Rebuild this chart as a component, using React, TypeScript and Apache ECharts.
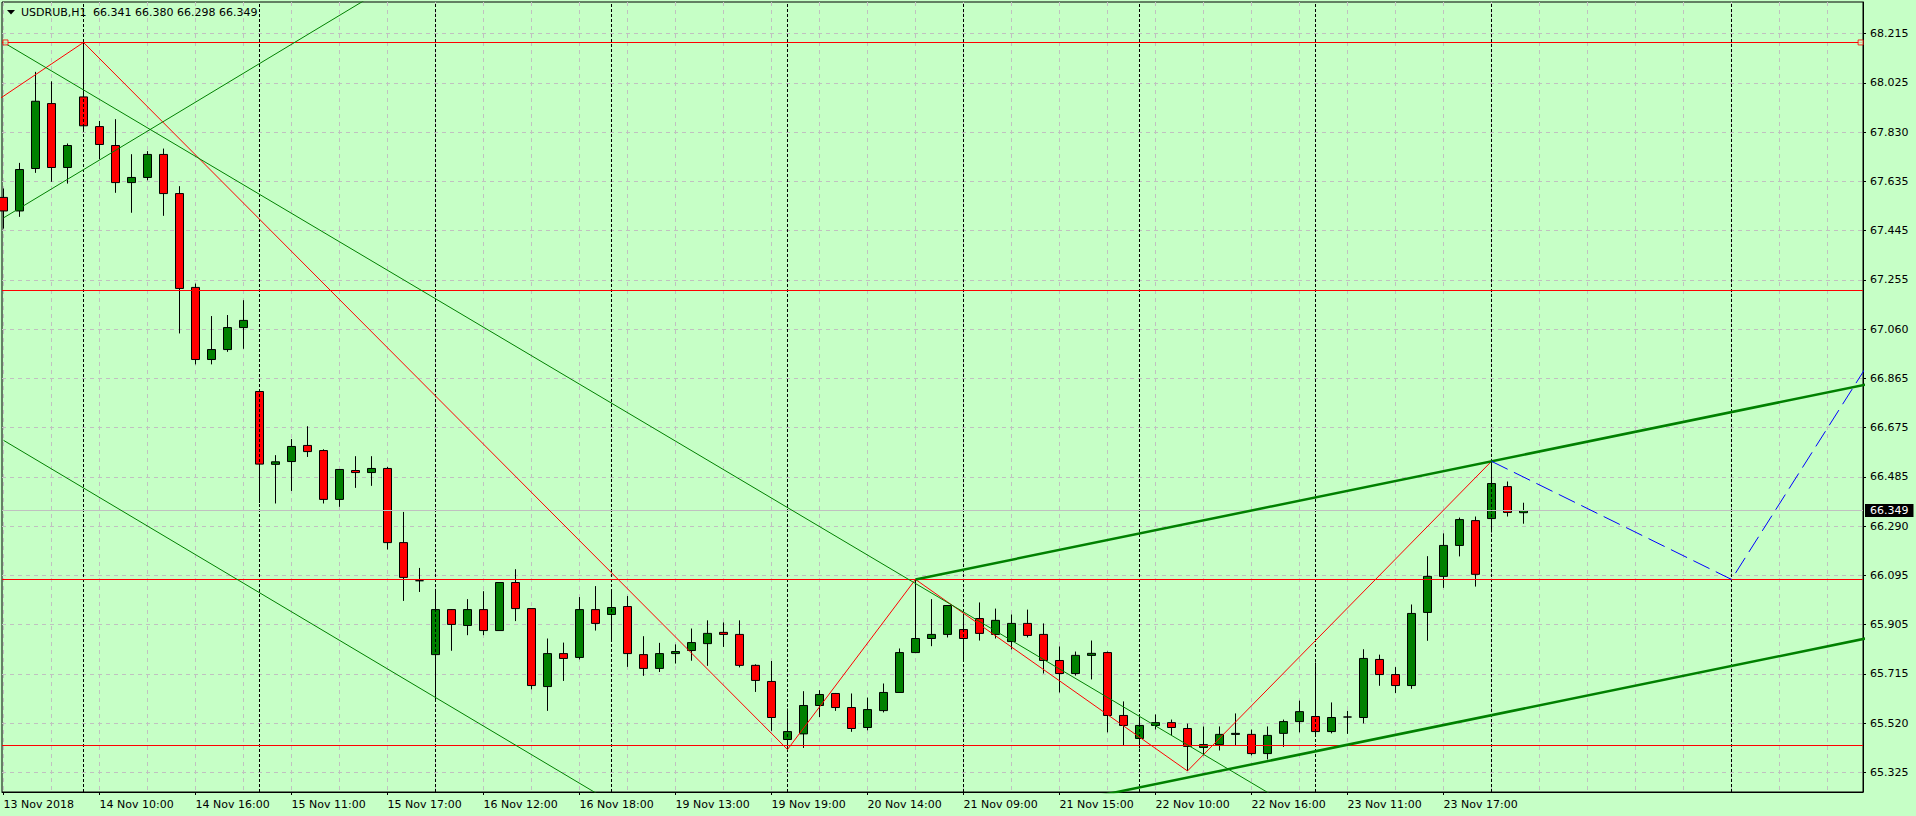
import React, { useEffect, useRef } from 'react';
import * as echarts from 'echarts';

// ---- header ----
const SYMBOL_TF = 'USDRUB,H1';
const LAST_QUOTE = ['66.341', '66.380', '66.298', '66.349'];
const BID = 66.349;

// ---- H1 bars (bar index 0..95) ----
const opens = [
  67.574, 67.521, 67.687, 67.941, 67.691, 67.967, 67.851, 67.777, 67.632, 67.652,
  67.742, 67.589, 67.222, 66.940, 66.979, 67.065, 66.815, 66.530, 66.541, 66.604,
  66.584, 66.393, 66.506, 66.498, 66.514, 66.224, 66.075, 65.786, 65.962, 65.900,
  65.962, 65.880, 66.068, 65.966, 65.661, 65.790, 65.775, 65.962, 65.943, 65.974,
  65.786, 65.732, 65.790, 65.802, 65.829, 65.873, 65.865, 65.744, 65.681, 65.454,
  65.476, 65.587, 65.634, 65.579, 65.501, 65.567, 65.638, 65.794, 65.849, 65.865,
  65.884, 65.927, 65.865, 65.837, 65.908, 65.865, 65.763, 65.712, 65.783, 65.794,
  65.548, 65.458, 65.509, 65.520, 65.497, 65.423, 65.434, 65.474, 65.474, 65.399,
  65.478, 65.524, 65.544, 65.485, 65.542, 65.540, 65.767, 65.708, 65.665, 65.951,
  66.092, 66.213, 66.310, 66.318, 66.443, 66.341,
];
const highs = [
  67.609, 67.709, 68.065, 68.028, 67.785, 68.180, 67.873, 67.880, 67.743, 67.755,
  67.765, 67.618, 67.237, 67.110, 67.114, 67.172, 66.815, 66.566, 66.629, 66.679,
  66.589, 66.512, 66.562, 66.562, 66.520, 66.344, 66.125, 66.038, 65.964, 66.003,
  66.034, 66.068, 66.120, 65.966, 65.849, 65.833, 66.011, 66.054, 66.038, 66.015,
  65.858, 65.832, 65.826, 65.888, 65.920, 65.912, 65.920, 65.748, 65.761, 65.575,
  65.643, 65.647, 65.636, 65.634, 65.618, 65.673, 65.810, 66.080, 66.003, 65.978,
  65.947, 65.990, 65.966, 65.943, 65.962, 65.908, 65.818, 65.798, 65.841, 65.798,
  65.603, 65.552, 65.552, 65.532, 65.516, 65.505, 65.505, 65.556, 65.493, 65.505,
  65.532, 65.606, 65.755, 65.599, 65.566, 65.807, 65.786, 65.737, 65.982, 66.171,
  66.260, 66.322, 66.326, 66.542, 66.463, 66.380,
];
const lows = [
  67.452, 67.498, 67.670, 67.635, 67.628, 67.834, 67.723, 67.592, 67.514, 67.641,
  67.502, 67.042, 66.921, 66.921, 66.970, 66.982, 66.379, 66.377, 66.426, 66.559,
  66.377, 66.364, 66.438, 66.446, 66.197, 65.996, 66.031, 65.608, 65.801, 65.862,
  65.862, 65.880, 65.917, 65.650, 65.566, 65.683, 65.767, 65.880, 65.840, 65.738,
  65.703, 65.718, 65.751, 65.762, 65.742, 65.816, 65.736, 65.640, 65.488, 65.415,
  65.421, 65.542, 65.566, 65.484, 65.490, 65.560, 65.638, 65.794, 65.819, 65.853,
  65.767, 65.841, 65.849, 65.806, 65.853, 65.712, 65.638, 65.704, 65.689, 65.482,
  65.431, 65.419, 65.493, 65.470, 65.331, 65.392, 65.411, 65.431, 65.392, 65.376,
  65.425, 65.482, 65.466, 65.478, 65.476, 65.517, 65.664, 65.636, 65.652, 65.840,
  66.047, 66.170, 66.052, 66.264, 66.326, 66.298,
];
const closes = [
  67.521, 67.683, 67.950, 67.691, 67.777, 67.854, 67.781, 67.632, 67.652, 67.742,
  67.589, 67.218, 66.940, 66.979, 67.065, 67.093, 66.531, 66.540, 66.600, 66.580,
  66.393, 66.510, 66.498, 66.514, 66.224, 66.088, 66.075, 65.962, 65.904, 65.962,
  65.880, 66.068, 65.966, 65.665, 65.790, 65.771, 65.962, 65.908, 65.970, 65.790,
  65.732, 65.790, 65.798, 65.833, 65.869, 65.865, 65.744, 65.685, 65.540, 65.485,
  65.587, 65.630, 65.579, 65.497, 65.571, 65.638, 65.794, 65.849, 65.865, 65.978,
  65.849, 65.869, 65.920, 65.908, 65.861, 65.763, 65.712, 65.783, 65.791, 65.548,
  65.509, 65.509, 65.520, 65.501, 65.427, 65.434, 65.474, 65.478, 65.399, 65.470,
  65.524, 65.563, 65.485, 65.540, 65.542, 65.771, 65.708, 65.665, 65.947, 66.092,
  66.213, 66.314, 66.100, 66.455, 66.342, 66.349,
];

// ---- axes ----
const xTickLabels = [
  '13 Nov 2018', '14 Nov 10:00', '14 Nov 16:00', '15 Nov 11:00', '15 Nov 17:00',
  '16 Nov 12:00', '16 Nov 18:00', '19 Nov 13:00', '19 Nov 19:00', '20 Nov 14:00',
  '21 Nov 09:00', '21 Nov 15:00', '22 Nov 10:00', '22 Nov 16:00', '23 Nov 11:00',
  '23 Nov 17:00',
];
const X_LABEL_STEP = 6; // bars between time labels
const X_GRID_STEP = 3; // bars between vertical grid lines
const daySeparators = [5, 16, 27, 38, 49, 60, 71, 82, 93, 108];

const yTickLabels = [
  '65.325', '65.520', '65.715', '65.905', '66.095', '66.290', '66.485', '66.675',
  '66.865', '67.060', '67.255', '67.445', '67.635', '67.830', '68.025', '68.215',
];

// ---- chart objects (bar index, price) ----
const hLevels = [68.18, 67.21, 66.08, 65.431];
const zigzag = [[-5, 67.76], [5, 68.18], [49, 65.415], [57, 66.08], [74, 65.331], [93, 66.542]];
const trendDown = [[0, 68.18], [82, 65.136]];
const trendUp = [[0, 67.494], [24, 68.399]];
const trendDownLow = [[0, 66.624], [40, 65.134]];
const channelUpper = [[57, 66.08], [117, 66.85]];
const channelLower = [[57, 65.087], [117, 65.857]];
const forecast = [[93, 66.542], [108, 66.08], [117, 66.968]];
const handles = [[0.125, 68.18], [116.07, 68.18]];

// ---- view ----
const X_MIN = -0.094;
const X_MAX = 116.22;
const Y_MIN = 65.2487;
const Y_MAX = 68.3382;

const BG = '#C6FFC6';
const GRID = '#C0C0C0';
const UP = '#008000';
const DOWN = '#FF0000';
const FONT = 'DejaVu Sans';

export default function App() {
  const ref = useRef<HTMLDivElement>(null);

  useEffect(() => {
    if (!ref.current) return;
    const chart = echarts.init(ref.current, null, { renderer: 'svg' });

    const xTickValues = xTickLabels.map((_, k) => k * X_LABEL_STEP);
    const xGridValues: number[] = [];
    for (let v = 0; v <= X_MAX; v += X_GRID_STEP) xGridValues.push(v);

    const yFirst = parseFloat(yTickLabels[0]);
    const yLast = parseFloat(yTickLabels[yTickLabels.length - 1]);
    const yTickValues = yTickLabels.map(
      (_, k) => yFirst + (k * (yLast - yFirst)) / (yTickLabels.length - 1)
    );
    const yLabelFor = (v: number) => {
      let best = 0;
      for (let k = 1; k < yTickValues.length; k++) {
        if (Math.abs(yTickValues[k] - v) < Math.abs(yTickValues[best] - v)) best = k;
      }
      return yTickLabels[best];
    };

    const lineSeries = (data: number[][], color: string, width: number, type: any = 'solid', z = 5) => ({
      type: 'line',
      xAxisIndex: 0,
      yAxisIndex: 0,
      data,
      symbol: 'none',
      silent: true,
      clip: true,
      z,
      itemStyle: { color },
      lineStyle: { color, width, type, opacity: 1 },
      emphasis: { disabled: true },
    });

    const candleData = opens.map((o, i) => [i, o, closes[i], lows[i], highs[i]]);

    const option: any = {
      animation: false,
      backgroundColor: BG,
      textStyle: { fontFamily: FONT },
      grid: {
        left: 2,
        right: 53,
        top: 2,
        bottom: 24,
        show: true,
        borderColor: '#000',
        borderWidth: 1,
        backgroundColor: 'transparent',
        containLabel: false,
        outerBoundsMode: 'none',
      },
      graphic: [
        {
          type: 'polygon',
          shape: { points: [[7, 10], [15, 10], [11, 14.5]] },
          style: { fill: '#000' },
          z: 20,
        },
        {
          type: 'text',
          x: 21,
          y: 12,
          style: { text: SYMBOL_TF, fill: '#000', fontSize: 11, fontFamily: FONT, verticalAlign: 'middle' },
          z: 20,
        },
        {
          type: 'text',
          x: 93,
          y: 12,
          style: { text: LAST_QUOTE.join(' '), fill: '#000', fontSize: 11, fontFamily: FONT, verticalAlign: 'middle' },
          z: 20,
        },
      ],
      xAxis: [
        {
          type: 'value',
          min: X_MIN,
          max: X_MAX,
          position: 'bottom',
          axisLine: { show: true, onZero: false, lineStyle: { color: '#000', width: 1 } },
          axisTick: { show: true, length: 3, inside: false, customValues: xTickValues, lineStyle: { color: '#000' } },
          axisLabel: {
            show: true,
            customValues: xTickValues,
            formatter: (v: number) => xTickLabels[Math.round(v / X_LABEL_STEP)] ?? '',
            align: 'left',
            margin: 7,
            color: '#000',
            fontSize: 11,
            fontFamily: FONT,
          },
          splitLine: { show: false },
        },
        {
          type: 'value',
          min: X_MIN,
          max: X_MAX,
          position: 'top',
          axisLine: { show: false, onZero: false },
          axisTick: { show: false, customValues: xGridValues },
          axisLabel: { show: false },
          splitLine: { show: true, lineStyle: { color: GRID, width: 1, type: [4, 4] } },
        },
      ],
      yAxis: [
        {
          type: 'value',
          position: 'right',
          min: Y_MIN,
          max: Y_MAX,
          axisLine: { show: true, onZero: false, lineStyle: { color: '#000', width: 1 } },
          axisTick: { show: true, length: 3, inside: false, customValues: yTickValues, lineStyle: { color: '#000' } },
          axisLabel: {
            show: true,
            customValues: yTickValues,
            formatter: (v: number) => yLabelFor(v),
            margin: 7,
            color: '#000',
            fontSize: 11,
            fontFamily: FONT,
          },
          splitLine: { show: true, lineStyle: { color: GRID, width: 1, type: [4, 4] } },
        },
      ],
      series: [
        // period separators
        {
          type: 'line',
          xAxisIndex: 1,
          yAxisIndex: 0,
          data: [],
          z: 1,
          silent: true,
          markLine: {
            silent: true,
            symbol: 'none',
            animation: false,
            label: { show: false },
            emphasis: { disabled: true },
            lineStyle: { color: '#000', width: 1, type: [3, 2] },
            data: daySeparators.map((i) => ({ xAxis: i })),
          },
        },
        // bid line
        {
          type: 'line',
          xAxisIndex: 0,
          yAxisIndex: 0,
          data: [],
          z: 1,
          silent: true,
          markLine: {
            silent: true,
            symbol: 'none',
            animation: false,
            emphasis: { disabled: true },
            lineStyle: { color: GRID, width: 1, type: 'solid' },
            label: {
              show: true,
              position: 'end',
              distance: 2,
              formatter: BID.toFixed(3),
              color: '#FFFFFF',
              backgroundColor: '#000',
              padding: [1, 5, 1, 5],
              fontSize: 11,
              fontFamily: FONT,
            },
            data: [{ yAxis: BID }],
          },
        },
        {
          type: 'candlestick',
          xAxisIndex: 0,
          yAxisIndex: 0,
          data: candleData,
          encode: { x: 0, y: [1, 2, 3, 4] },
          barWidth: 9,
          z: 3,
          silent: true,
          itemStyle: {
            color: UP,
            color0: DOWN,
            borderColor: '#000',
            borderColor0: '#000',
            borderColorDoji: '#000',
            borderWidth: 1,
          },
        },
        // horizontal levels
        {
          type: 'line',
          xAxisIndex: 0,
          yAxisIndex: 0,
          data: [],
          z: 4,
          silent: true,
          markLine: {
            silent: true,
            symbol: 'none',
            animation: false,
            label: { show: false },
            emphasis: { disabled: true },
            lineStyle: { color: DOWN, width: 1, type: 'solid', opacity: 1 },
            data: hLevels.map((v) => ({ yAxis: v, lineStyle: { color: DOWN, opacity: 1 } })),
          },
        },
        lineSeries(zigzag, DOWN, 1),
        lineSeries(trendDown, UP, 1),
        lineSeries(trendUp, UP, 1),
        lineSeries(trendDownLow, UP, 1),
        lineSeries(channelUpper, UP, 2.5),
        lineSeries(channelLower, UP, 2.5),
        lineSeries(forecast, '#0000FF', 1, [18, 7]),
        {
          type: 'scatter',
          xAxisIndex: 0,
          yAxisIndex: 0,
          data: handles,
          symbol: 'rect',
          symbolSize: 5,
          silent: true,
          z: 6,
          itemStyle: { color: BG, borderColor: DOWN, borderWidth: 1 },
        },
      ],
    };

    chart.setOption(option);
    return () => chart.dispose();
  }, []);

  return (
    <div
      ref={ref}
      style={{ position: 'fixed', left: 0, top: 0, width: 1916, height: 816 }}
    />
  );
}
